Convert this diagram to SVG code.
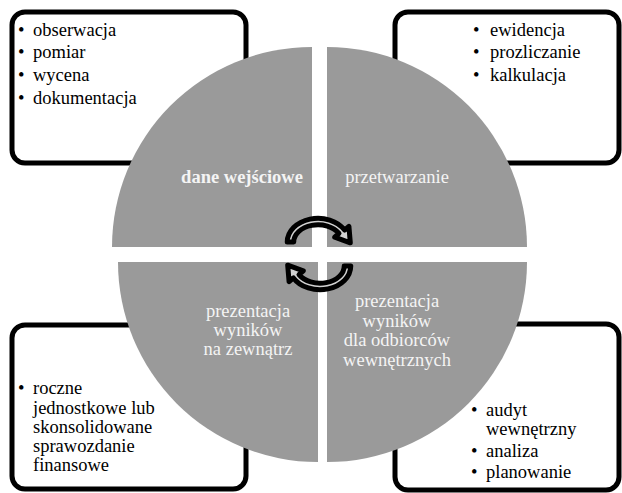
<svg xmlns="http://www.w3.org/2000/svg" width="622" height="493" viewBox="0 0 622 493">
<style>
.box{fill:#fff;stroke:#000;stroke-width:5}
.q{fill:#9a9a9a}
.t{font-family:'Liberation Serif','DejaVu Serif',serif;font-size:18.5px;fill:#000}
.w{font-family:'Liberation Serif','DejaVu Serif',serif;font-size:18.5px;fill:#f4f4f4;text-anchor:middle}
.arr{fill:#d2d2d2;stroke:#000;stroke-width:5;stroke-linejoin:round}
</style>
<rect width="622" height="493" fill="#fff"/>
<g id="box-tl">
<rect class="box" x="12" y="12" width="234" height="151" rx="13"/>
<text class="t"><tspan x="18" y="35.5">•</tspan><tspan x="33" y="35.5">obserwacja</tspan><tspan x="18" y="58.2">•</tspan><tspan x="33" y="58.2">pomiar</tspan><tspan x="18" y="80.9">•</tspan><tspan x="33" y="80.9">wycena</tspan><tspan x="18" y="103.6">•</tspan><tspan x="33" y="103.6">dokumentacja</tspan></text>
</g>
<g id="box-tr">
<rect class="box" x="395" y="12" width="224" height="151" rx="13"/>
<text class="t"><tspan x="473" y="35.7">•</tspan><tspan x="490" y="35.7">ewidencja</tspan><tspan x="473" y="58.3">•</tspan><tspan x="490" y="58.3">prozliczanie</tspan><tspan x="473" y="81">•</tspan><tspan x="490" y="81">kalkulacja</tspan></text>
</g>
<g id="box-bl">
<rect class="box" x="12" y="325" width="234" height="164" rx="13"/>
<text class="t"><tspan x="18" y="394">•</tspan><tspan x="33" y="394">roczne</tspan><tspan x="33" y="413.5">jednostkowe lub</tspan><tspan x="33" y="433">skonsolidowane</tspan><tspan x="33" y="452">sprawozdanie</tspan><tspan x="33" y="471">finansowe</tspan></text>
</g>
<g id="box-br">
<rect class="box" x="395" y="324" width="224" height="166" rx="13"/>
<text class="t"><tspan x="471" y="415.5">•</tspan><tspan x="486" y="415.5">audyt</tspan><tspan x="486" y="434.5">wewnętrzny</tspan><tspan x="471" y="456.5">•</tspan><tspan x="486" y="456.5">analiza</tspan><tspan x="471" y="478">•</tspan><tspan x="486" y="478">planowanie</tspan></text>
</g>
<g id="q-tl">
<path class="q" d="M312,247 L112,247 A200,200 0 0 1 312,47 Z"/>
<text class="w" x="242" y="183" font-weight="bold">dane wejściowe</text>
</g>
<g id="q-tr">
<path class="q" d="M327,247 L327,47 A200,200 0 0 1 527,247 Z"/>
<text class="w" x="397" y="183">przetwarzanie</text>
</g>
<g id="q-bl">
<path class="q" d="M318,262 L318,462 A200,200 0 0 1 118,262 Z"/>
<text class="w"><tspan x="248" y="317">prezentacja</tspan><tspan x="248" y="336">wyników</tspan><tspan x="248" y="355">na zewnątrz</tspan></text>
</g>
<g id="q-br">
<path class="q" d="M327,262 L527,262 A200,200 0 0 1 327,462 Z"/>
<text class="w"><tspan x="397" y="307">prezentacja</tspan><tspan x="397" y="326.5">wyników</tspan><tspan x="397" y="346">dla odbiorców</tspan><tspan x="397" y="365.5">wewnętrznych</tspan></text>
</g>
<g id="connectors">
<path id="arrow-top" class="arr" d="M287.25,242 A30.75,23.75 0 0 1 344.6,230.1 L348.9,226.3 L350.3,242.8 L334.7,237.2 L339,233.4 A24.25,17.25 0 0 0 293.75,242 Z"/>
<path id="arrow-bottom" class="arr" transform="rotate(180 319 254)" d="M287.25,242 A30.75,23.75 0 0 1 344.6,230.1 L348.9,226.3 L350.3,242.8 L334.7,237.2 L339,233.4 A24.25,17.25 0 0 0 293.75,242 Z"/>
</g>
</svg>
